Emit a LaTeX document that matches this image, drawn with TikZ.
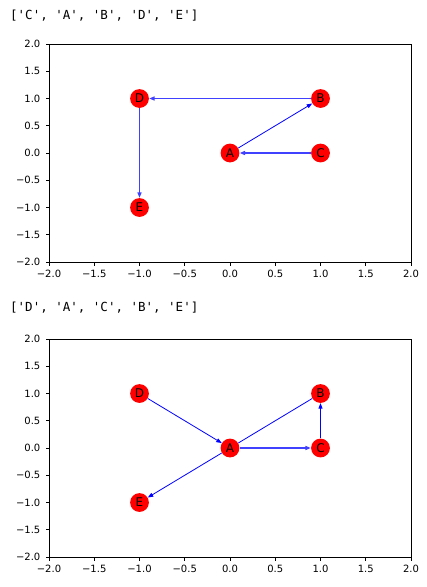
\documentclass[tikz,border=0pt]{standalone}
\usepackage{fontspec}
\setmainfont{DejaVu Sans}
\setmonofont{DejaVu Sans Mono}
\usetikzlibrary{arrows.meta}

\tikzset{
  vertex/.style={circle, fill=red, minimum size=18.8pt, inner sep=0pt,
    font=\fontsize{12}{12}\selectfont},
  edge/.style={draw=blue, line width=0.8pt, -{Triangle[length=5.5pt, width=4pt]}},
  wideedge/.style={edge, line width=1.4pt, draw=blue!75},
  plainedge/.style={draw=blue, line width=0.8pt},
  frame/.style={line width=0.8pt},
  ticklabel/.style={inner sep=0pt, font=\fontsize{10}{10}\selectfont},
  listlabel/.style={inner sep=0pt, anchor=base west, font=\fontsize{12.5}{12.5}\ttfamily}
}

\begin{document}
\begin{tikzpicture}[x=1pt, y=1pt]
  \useasboundingbox[fill=white] (0,0) rectangle (427,-587);

  % order printed above each plot
  \node[listlabel] (toplist) at (10,-19.4) {['C', 'A', 'B', 'D', 'E']};
  \node[listlabel] (botlist) at (10,-311.4) {['D', 'A', 'C', 'B', 'E']};

  % first plot
  \begin{scope}[shift={(230pt,-153pt)}, x=90.5pt, y=54.5pt]
    \draw[frame] (-2,-2) rectangle (2,2);
    \foreach \v/\t in {-2/−2.0, -1.5/−1.5, -1/−1.0, -0.5/−0.5, 0/0.0, 0.5/0.5, 1/1.0, 1.5/1.5, 2/2.0} {
      \draw[frame] (\v,-2) -- ++(0,-3.5pt);
      \node[ticklabel, anchor=base] at ([yshift=-15.2pt]\v,-2) {\t};
      \draw[frame] (-2,\v) -- ++(-3.5pt,0);
      \node[ticklabel, anchor=east] at ([xshift=-8.5pt]-2,\v) {\t};
    }
    \node[vertex] (A) at (0,0) {A};
    \node[vertex] (B) at (1,1) {B};
    \node[vertex] (C) at (1,0) {C};
    \node[vertex] (D) at (-1,1) {D};
    \node[vertex] (E) at (-1,-1) {E};
    \draw[wideedge] (C) -- (A);
    \draw[edge] (A) -- (B);
    \draw[wideedge] (B) -- (D);
    \draw[wideedge] (D) -- (E);
  \end{scope}

  % second plot
  \begin{scope}[shift={(230pt,-448pt)}, x=90.5pt, y=54.5pt]
    \draw[frame] (-2,-2) rectangle (2,2);
    \foreach \v/\t in {-2/−2.0, -1.5/−1.5, -1/−1.0, -0.5/−0.5, 0/0.0, 0.5/0.5, 1/1.0, 1.5/1.5, 2/2.0} {
      \draw[frame] (\v,-2) -- ++(0,-3.5pt);
      \node[ticklabel, anchor=base] at ([yshift=-15.2pt]\v,-2) {\t};
      \draw[frame] (-2,\v) -- ++(-3.5pt,0);
      \node[ticklabel, anchor=east] at ([xshift=-8.5pt]-2,\v) {\t};
    }
    \node[vertex] (A2) at (0,0) {A};
    \node[vertex] (B2) at (1,1) {B};
    \node[vertex] (C2) at (1,0) {C};
    \node[vertex] (D2) at (-1,1) {D};
    \node[vertex] (E2) at (-1,-1) {E};
    \draw[edge] (D2) -- (A2);
    \draw[wideedge] (A2) -- (C2);
    \draw[edge] (C2) -- (B2);
    \draw[plainedge] (A2) -- (B2);
    \draw[edge] (A2) -- (E2);
  \end{scope}
\end{tikzpicture}
\end{document}
